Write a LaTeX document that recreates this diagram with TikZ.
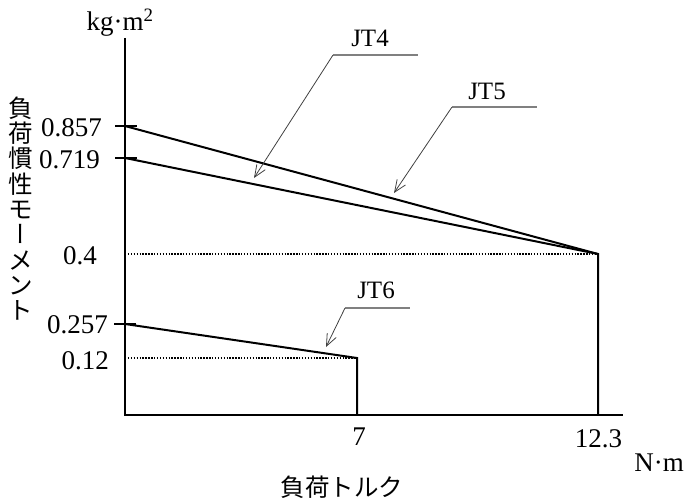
\documentclass[tikz,border=0pt]{standalone}
\usepackage{fontspec}
\setmainfont{Liberation Serif}
\newfontfamily\jpfont{Noto Sans CJK JP}
\newfontfamily\jpvfont[RawFeature=+vert]{Noto Sans CJK JP}
\usetikzlibrary{arrows.meta,positioning}

\begin{document}
\begin{tikzpicture}[x=1pt, y=-1pt,
    curve/.style={line width=2pt},
    axis/.style={line width=2.6pt},
    dotline/.style={line width=1.7pt, dash pattern=on 1.4pt off 1.5pt},
    leader/.style={line width=0.8pt, black!75, -{Straight Barb[length=12pt,width=10pt]}},
    shelf/.style={line width=1.4pt, black!50},
    num/.style={font=\fontsize{27}{29}\selectfont, inner sep=0pt},
    tag/.style={font=\fontsize{25}{27}\selectfont, inner sep=0pt},
    jp/.style={font=\jpfont\fontsize{24.5}{25.3}\selectfont, inner sep=0pt, align=center}]
    \useasboundingbox (0,0) rectangle (687,503);
    % axes
    \coordinate (O) at (125,415);
    \coordinate (ytop) at (125,38);
    \coordinate (xend) at (623,415);
    \draw[axis] (ytop) -- (O) -- (xend);
    % points
    \coordinate (a857) at (125,126);
    \coordinate (a719) at (125,158);
    \coordinate (a257) at (125,324);
    \coordinate (y4) at (125,254);
    \coordinate (y12) at (125,358);
    \coordinate (p4) at (598,254);
    \coordinate (p12) at (357,358);
    \coordinate (x123) at (598,415);
    \coordinate (x7) at (357,415);
    % JT4, JT5, JT6 limits
    \draw[curve] (a857) -- (p4) -- (x123);
    \draw[curve] (a719) -- (p4);
    \draw[curve] (a257) -- (p12) -- (x7);
    \draw[dotline] (y4) -- (p4);
    \draw[dotline] (y12) -- (p12);
    % ticks
    \draw[curve] ([xshift=-10pt]a857) -- ++(22,0);
    \draw[curve] ([xshift=-10pt]a719) -- ++(22,0);
    \draw[curve] ([xshift=-11pt]a257) -- ++(22,0);
    % tick labels
    \node[num, anchor=east] (l857) at (102,127.5) {0.857};
    \node[num, anchor=east] (l719) at (100,159.5) {0.719};
    \node[num, anchor=east] (l4) at (97,256) {0.4};
    \node[num, anchor=east] (l257) at (108,325) {0.257};
    \node[num, anchor=east] (l12) at (109,360.5) {0.12};
    \node[num, anchor=base] (l7) at (359,445) {7};
    \node[num, anchor=base] (l123) at (598.5,447) {12.3};
    \node[num, anchor=base] (unitx) at (659,471) {N·m};
    \node[num, anchor=base] (unity) at (120,31) {kg·m\textsuperscript{2}};
    % axis titles
    \node[jp] (titley) at (21,208.5) {負\\荷\\慣\\性\\モ\\{\jpvfont ー}\\メ\\ン\\ト};
    \node[jp] (titlex) at (342,487) {負荷トルク};
    % callouts
    \node[tag, anchor=base] (jt4) at (370,47) {JT4};
    \node[tag, anchor=base] (jt5) at (487,99) {JT5};
    \node[tag, anchor=base] (jt6) at (376,298) {JT6};
    \coordinate (k4) at (333,55);
    \coordinate (e4) at (418,55);
    \coordinate (t4) at (254,178);
    \coordinate (k5) at (452,107);
    \coordinate (e5) at (537,107);
    \coordinate (t5) at (394,193);
    \coordinate (k6) at (345,308);
    \coordinate (e6) at (410,308);
    \coordinate (t6) at (326,347);
    \draw[shelf] (k4) -- (e4);
    \draw[leader] (k4) -- (t4);
    \draw[shelf] (k5) -- (e5);
    \draw[leader] (k5) -- (t5);
    \draw[shelf] (k6) -- (e6);
    \draw[leader] (k6) -- (t6);
\end{tikzpicture}
\end{document}
